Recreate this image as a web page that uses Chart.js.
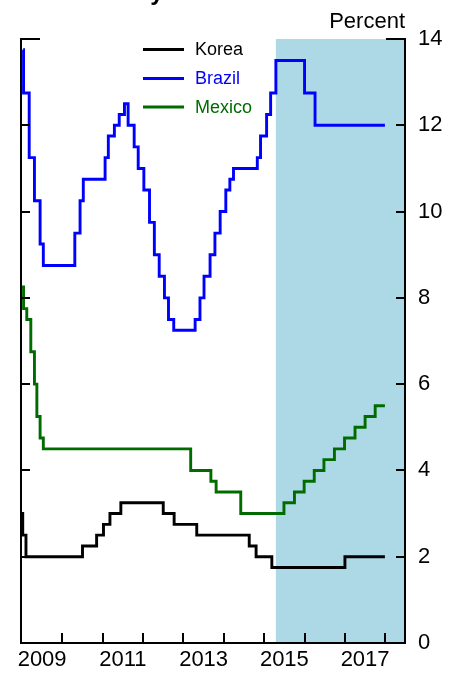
<!DOCTYPE html>
<html><head><meta charset="utf-8">
<style>html,body{margin:0;padding:0;background:#fff;overflow:hidden}canvas{display:block}</style>
<script src="https://cdn.jsdelivr.net/npm/chart.js@4/dist/chart.umd.min.js"></script>
</head><body>
<canvas id="c" width="461" height="675"></canvas>
<script>
// ---- data (decimal years, percent) ----
const koreaDates = [2008.98, 2009.02, 2009.10, 2010.50, 2010.85, 2011.02, 2011.18, 2011.45, 2012.50, 2012.77, 2013.33, 2014.63, 2014.80, 2015.19, 2017.00, 2017.99];
const koreaRates = [3.00, 2.50, 2.00, 2.25, 2.50, 2.75, 3.00, 3.25, 3.00, 2.75, 2.50, 2.25, 2.00, 1.75, 2.00, 2.00];

const brazilDates = [2009.03, 2009.04, 2009.18, 2009.31, 2009.45, 2009.53, 2010.31, 2010.44, 2010.52, 2011.06, 2011.14, 2011.29, 2011.41, 2011.54, 2011.63, 2011.78, 2011.88, 2012.02, 2012.16, 2012.28, 2012.40, 2012.53, 2012.63, 2012.76, 2013.29, 2013.41, 2013.51, 2013.66, 2013.78, 2013.91, 2014.05, 2014.15, 2014.24, 2014.83, 2014.91, 2015.06, 2015.16, 2015.29, 2016.00, 2016.26, 2017.99];
const brazilRates = [13.75, 12.75, 11.25, 10.25, 9.25, 8.75, 9.50, 10.25, 10.75, 11.25, 11.75, 12.00, 12.25, 12.50, 12.00, 11.50, 11.00, 10.50, 9.75, 9.00, 8.50, 8.00, 7.50, 7.25, 7.50, 8.00, 8.50, 9.00, 9.50, 10.00, 10.50, 10.75, 11.00, 11.25, 11.75, 12.25, 12.75, 13.50, 12.75, 12.00, 12.00];

const mexicoDates = [2009.00, 2009.04, 2009.12, 2009.22, 2009.31, 2009.37, 2009.45, 2009.53, 2013.18, 2013.68, 2013.81, 2014.42, 2015.49, 2015.75, 2015.99, 2016.24, 2016.48, 2016.74, 2016.99, 2017.25, 2017.50, 2017.75, 2017.99];
const mexicoRates = [8.25, 7.75, 7.50, 6.75, 6.00, 5.25, 4.75, 4.50, 4.00, 3.75, 3.50, 3.00, 3.25, 3.50, 3.75, 4.00, 4.25, 4.50, 4.75, 5.00, 5.25, 5.50, 5.50];

const seriesNames = ['Korea', 'Brazil', 'Mexico'];
const xLabelYears = [2009, 2011, 2013, 2015, 2017];
const xTickYears = [2010, 2011, 2012, 2013, 2014, 2015, 2016, 2017, 2018];
const yTickValues = [0, 2, 4, 6, 8, 10, 12, 14];
const forecastStart = 2015.29;

// ---- styles ----
const FONT = '"Liberation Sans", Arial, Helvetica, sans-serif';
const colors = ['#000000', '#0000FF', '#006C00'];
const toPts = (xs, ys) => xs.map((x, i) => ({x: x, y: ys[i]}));

const shadePlugin = {
  id: 'shade',
  beforeDatasetsDraw(chart) {
    const {ctx, chartArea: a, scales: {x}} = chart;
    const x0 = x.getPixelForValue(forecastStart);
    ctx.save();
    ctx.fillStyle = '#ADD8E6';
    ctx.fillRect(x0, a.top, a.right - x0, a.bottom - a.top);
    ctx.restore();
  }
};

const framePlugin = {
  id: 'frame',
  afterDraw(chart) {
    const {ctx, chartArea: a, scales: {x, y}} = chart;
    ctx.save();
    ctx.strokeStyle = '#000';
    ctx.lineWidth = 2;
    ctx.lineCap = 'butt';
    ctx.beginPath();
    ctx.moveTo(a.left, a.top); ctx.lineTo(a.left, a.bottom + 1);
    ctx.moveTo(a.right, a.top); ctx.lineTo(a.right, a.bottom + 1);
    ctx.moveTo(a.left - 1, a.bottom); ctx.lineTo(a.right + 1, a.bottom);
    ctx.moveTo(a.left - 1, a.top); ctx.lineTo(a.left + 19, a.top);
    ctx.moveTo(a.right - 19, a.top); ctx.lineTo(a.right + 1, a.top);
    yTickValues.forEach(v => {
      const py = Math.round(y.getPixelForValue(v));
      ctx.moveTo(a.left, py); ctx.lineTo(a.left + 9, py);
      ctx.moveTo(a.right - 9, py); ctx.lineTo(a.right, py);
    });
    xTickYears.forEach(v => {
      const px = Math.round(x.getPixelForValue(v));
      ctx.moveTo(px, a.bottom); ctx.lineTo(px, a.bottom - 10);
    });
    ctx.stroke();

    ctx.fillStyle = '#000';
    ctx.font = '22px ' + FONT;
    ctx.textAlign = 'right';
    ctx.textBaseline = 'alphabetic';
    ctx.fillText('Percent', a.right, 27.5);

    ctx.font = 'bold 24px ' + FONT;
    ctx.textAlign = 'left';
    ctx.fillText('Policy Rates', 93, 0);

    const ly = [49.5, 78.5, 107];
    ctx.font = '18px ' + FONT;
    ctx.textBaseline = 'middle';
    chart.data.datasets.forEach((ds, i) => {
      ctx.strokeStyle = ds.borderColor;
      ctx.lineWidth = 3;
      ctx.beginPath();
      ctx.moveTo(143, ly[i]); ctx.lineTo(184, ly[i]);
      ctx.stroke();
      ctx.fillStyle = ds.borderColor;
      ctx.fillText(ds.label, 195, ly[i] + 1);
    });
    ctx.restore();
  }
};

new Chart(document.getElementById('c'), {
  type: 'line',
  data: {
    datasets: [
      {label: seriesNames[0], data: toPts(koreaDates, koreaRates), borderColor: colors[0]},
      {label: seriesNames[1], data: toPts(brazilDates, brazilRates), borderColor: colors[1]},
      {label: seriesNames[2], data: toPts(mexicoDates, mexicoRates), borderColor: colors[2]}
    ].map(d => Object.assign(d, {stepped: true, borderWidth: 2.9, pointRadius: 0, fill: false, borderCapStyle: 'butt', borderJoinStyle: 'miter'}))
  },
  options: {
    responsive: false,
    animation: false,
    devicePixelRatio: 1,
    layout: {padding: {left: 21, top: 39, right: 0, bottom: 0}},
    plugins: {legend: {display: false}, tooltip: {enabled: false}, title: {display: false}},
    scales: {
      x: {
        type: 'linear', min: 2008.977, max: 2018.488,
        grid: {display: false, drawTicks: false},
        border: {display: false},
        afterBuildTicks: s => { s.ticks = xLabelYears.map(v => ({value: v + 0.5})); },
        ticks: {
          callback: v => String(Math.floor(v)),
          font: {family: FONT, size: 22}, color: '#000', padding: 4,
          maxRotation: 0, autoSkip: false
        },
        afterFit: s => { s.height = 32; }
      },
      y: {
        position: 'right', min: 0, max: 14,
        grid: {display: false, drawTicks: false},
        border: {display: false},
        afterBuildTicks: s => { s.ticks = yTickValues.map(v => ({value: v})); },
        ticks: {font: {family: FONT, size: 22}, color: '#000', padding: 13},
        afterFit: s => { s.width = 56; }
      }
    }
  },
  plugins: [shadePlugin, framePlugin]
});
</script>
</body></html>
